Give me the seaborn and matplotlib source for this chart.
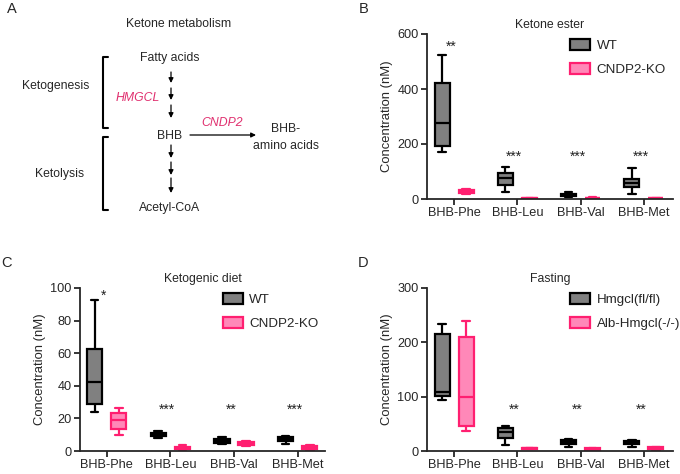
import numpy as np
import pandas as pd
import matplotlib
matplotlib.use('Agg')
import matplotlib.pyplot as plt
from matplotlib.patches import Patch
import seaborn as sns

sns.set_style('ticks')
plt.rcParams['font.family'] = ['Liberation Sans', 'DejaVu Sans']

# box values per category: [min, Q1, median, Q3, max]
categories = ['BHB-Phe', 'BHB-Leu', 'BHB-Val', 'BHB-Met']

ester_wt = [[170, 194, 276, 421, 524], [27, 51, 75, 94, 118],
            [8, 12, 16, 20, 25], [17, 43, 59, 73, 112]]
ester_ko = [[18, 22, 27, 32, 36], [1, 1.5, 2, 2.5, 3],
            [2, 3, 4, 5, 6], [1.5, 2.5, 3, 3.5, 4.5]]
ester_stars = ['**', '***', '***', '***']
ester_star_y = [538, 138, 138, 138]

diet_wt = [[24.1, 28.8, 42.3, 62.4, 92.6], [7.8, 9.2, 10.2, 11.2, 12.3],
           [4.3, 5.1, 6.1, 7.4, 8.8], [4.5, 5.9, 7.2, 8.4, 9.2]]
diet_ko = [[10, 13.5, 19, 23.5, 26.6], [0.6, 1.2, 1.8, 2.7, 3.7],
           [2.9, 3.5, 4.5, 5.3, 6.1], [0.8, 1.2, 2.0, 2.9, 3.7]]
diet_stars = ['*', '***', '**', '***']
diet_star_y = [92.5, 23, 23, 23]

fast_wt = [[93.7, 101.6, 108, 216, 234.5], [11, 23.3, 34.3, 41.6, 46],
           [6.7, 12.2, 16, 20.2, 21.4], [6.7, 12, 16, 19, 20]]
fast_ko = [[36.7, 46, 100, 210, 239], [4, 4.5, 5, 5.5, 6],
           [2, 2.5, 3.7, 5, 6], [2.5, 3.7, 5, 6.7, 8]]
fast_stars = ['', '**', '**', '**']
fast_star_y = [0, 68, 68, 68]

gray = '#808080'
pink_fill = '#ff88b8'
pink_edge = '#ff1f70'
pink_text = '#e0306f'


def make_df(wt, ko, names):
    rows = []
    for name, group in zip(names, [wt, ko]):
        for cat, vals in zip(categories, group):
            for v in vals:
                rows.append({'cat': cat, 'group': name, 'val': v})
    return pd.DataFrame(rows)


def box_panel(ax, wt, ko, names, title, ymax, yticks, stars, star_y, xlim):
    df = make_df(wt, ko, names)
    sns.boxplot(data=df, x='cat', y='val', hue='group', order=categories,
                hue_order=names, palette=[gray, pink_fill], whis=(0, 100),
                width=0.76, gap=0.37, linewidth=1.6, linecolor='black',
                saturation=1, legend=False, ax=ax)
    edges = ['black', pink_edge]
    for cont, ec in zip(ax.containers, edges):
        for b in cont.boxes:
            b.set_edgecolor(ec)
        for ln in list(cont.whiskers) + list(cont.caps) + list(cont.medians):
            ln.set_color(ec)
    for i, (s, y) in enumerate(zip(stars, star_y)):
        if s:
            ax.text(i - 0.05, y, s, ha='center', va='baseline', fontsize=10,
                    color='#222222')
    ax.set_ylim(0, ymax)
    ax.set_yticks(yticks)
    ax.set_xlim(*xlim)
    ax.set_xlabel('')
    ax.set_ylabel('Concentration (nM)', fontsize=9.4, labelpad=3)
    ax.set_title(title, fontsize=8.8, pad=4)
    sns.despine(ax=ax)
    for sp in ['left', 'bottom']:
        ax.spines[sp].set_linewidth(1.3)
    ax.tick_params(axis='both', labelsize=9.2, width=1.3, length=4, pad=2)
    handles = [Patch(facecolor=gray, edgecolor='black', linewidth=1.6),
               Patch(facecolor=pink_fill, edgecolor=pink_edge, linewidth=1.6)]
    ax.legend(handles, names, loc='upper left', bbox_to_anchor=(0.56, 1.0),
              frameon=False, fontsize=9.6, handlelength=1.5,
              handleheight=0.8, labelspacing=0.85, handletextpad=0.5,
              borderaxespad=0.0)


fig = plt.figure(figsize=(6.8, 4.74), dpi=100)

# panel A: ketone metabolism scheme (pixel-like coordinates)
axa = fig.add_axes([0, 1 - 230 / 474, 0.5, 230 / 474])
axa.set_xlim(0, 340)
axa.set_ylim(230, 0)
axa.axis('off')
fs = 8.8
axa.text(179, 24, 'Ketone metabolism', ha='center', va='center', fontsize=fs)
axa.text(170, 58, 'Fatty acids', ha='center', va='center', fontsize=fs)
axa.text(56, 86, 'Ketogenesis', ha='center', va='center', fontsize=fs)
axa.text(138, 98, 'HMGCL', ha='center', va='center', fontsize=fs,
         style='italic', color=pink_text)
axa.text(170, 136, 'BHB', ha='center', va='center', fontsize=fs)
axa.text(222, 123, 'CNDP2', ha='center', va='center', fontsize=fs,
         style='italic', color=pink_text)
axa.text(286, 129, 'BHB-', ha='center', va='center', fontsize=fs)
axa.text(286, 146, 'amino acids', ha='center', va='center', fontsize=fs)
axa.text(60, 174, 'Ketolysis', ha='center', va='center', fontsize=fs)
axa.text(170, 208, 'Acetyl-CoA', ha='center', va='center', fontsize=fs)
arrow = dict(arrowstyle='-|>', color='black', lw=0.9, mutation_scale=7,
             shrinkA=0, shrinkB=0)
for y0, y1 in [(72, 83), (88, 100), (105, 118), (145, 158), (162, 175), (178, 193)]:
    axa.annotate('', xy=(171, y1), xytext=(171, y0), arrowprops=arrow)
axa.annotate('', xy=(256, 135), xytext=(190, 135), arrowprops=arrow)
axa.plot([108, 103, 103, 108], [57, 57, 128, 128], color='black', lw=1.5)
axa.plot([108, 103, 103, 108], [137, 137, 210, 210], color='black', lw=1.5)

axb = fig.add_axes([427 / 680, 1 - 199 / 474, 246 / 680, 165 / 474])
box_panel(axb, ester_wt, ester_ko, ['WT', 'CNDP2-KO'], 'Ketone ester', 600,
          [0, 200, 400, 600], ester_stars, ester_star_y, (-0.43, 3.46))

axc = fig.add_axes([80 / 680, 1 - 451 / 474, 245 / 680, 163 / 474])
box_panel(axc, diet_wt, diet_ko, ['WT', 'CNDP2-KO'], 'Ketogenic diet', 100,
          [0, 20, 40, 60, 80, 100], diet_stars, diet_star_y, (-0.42, 3.43))

axd = fig.add_axes([427 / 680, 1 - 451 / 474, 246 / 680, 163 / 474])
box_panel(axd, fast_wt, fast_ko, ['Hmgcl(fl/fl)', 'Alb-Hmgcl(-/-)'], 'Fasting',
          300, [0, 100, 200, 300], fast_stars, fast_star_y, (-0.43, 3.46))

for letter, x, y in [('A', 12, 9), ('B', 364, 9), ('C', 6, 263), ('D', 363, 263)]:
    fig.text(x / 680, 1 - y / 474, letter, ha='center', va='center', fontsize=10.5)

fig.savefig('out.png', dpi=100)
